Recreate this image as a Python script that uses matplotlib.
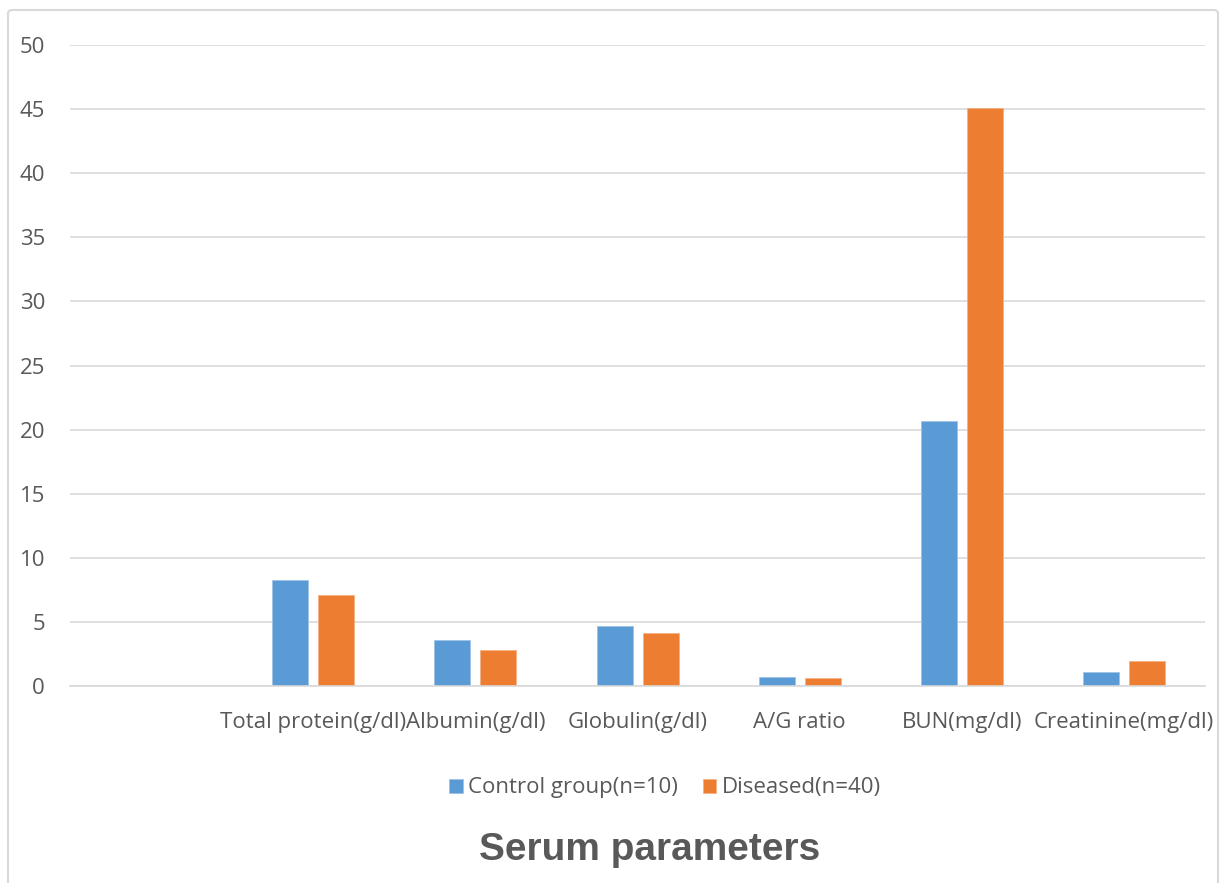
import numpy as np
import matplotlib.pyplot as plt
from matplotlib.patches import FancyBboxPatch

categories = ["", "Total protein(g/dl)", "Albumin(g/dl)", "Globulin(g/dl)",
              "A/G ratio", "BUN(mg/dl)", "Creatinine(mg/dl)"]
control = [np.nan, 8.3, 3.6, 4.65, 0.68, 20.7, 1.13]
diseased = [np.nan, 7.1, 2.82, 4.12, 0.6, 45.1, 1.98]
series_names = ["Control group(n=10)", "Diseased(n=40)"]

blue = "#5B9BD5"
orange = "#ED7D31"
grey_txt = "#595959"
grid_col = "#D9D9D9"

plt.rcParams['font.family'] = ['Open Sans', 'DejaVu Sans']

fig = plt.figure(figsize=(12.21, 8.83), dpi=100)
ax = fig.add_axes([0.0573, 0.2231, 0.987 - 0.0573, 0.949 - 0.2231])

x = np.arange(len(categories))
w = 0.222
off = 0.142
ax.bar(x - off, control, w, color=blue, edgecolor="#9DC3E6", linewidth=0.6,
       label=series_names[0], zorder=3)
ax.bar(x + off, diseased, w, color=orange, edgecolor="#F4B183", linewidth=0.6,
       label=series_names[1], zorder=3)

ax.set_xlim(-0.5, len(categories) - 0.5)
ax.set_ylim(0, 50)
ax.set_yticks(np.arange(0, 51, 5))
ax.yaxis.grid(True, color=grid_col, linewidth=1.2, zorder=0)
ax.set_axisbelow(True)
for s in ["left", "right", "top"]:
    ax.spines[s].set_visible(False)
ax.spines["bottom"].set_color(grid_col)
ax.spines["bottom"].set_linewidth(1.2)
ax.spines["bottom"].set_zorder(4)

ax.set_xticks(x)
ax.set_xticklabels(categories, fontsize=16, color=grey_txt)
ax.tick_params(axis="x", length=0, pad=19)
ax.tick_params(axis="y", length=0, pad=18, labelsize=16, labelcolor=grey_txt)

leg = fig.legend(loc="center", bbox_to_anchor=(665 / 1221, 1 - 788 / 883), ncol=2,
                 frameon=False, fontsize=16, handlelength=0.6, handleheight=0.6,
                 handletextpad=0.25, columnspacing=1.1)
for t in leg.get_texts():
    t.set_color(grey_txt)

fig.text(650 / 1221, 1 - 850 / 883, "Serum parameters", ha="center", va="center",
         fontsize=28, fontweight="bold", color=grey_txt, family="Liberation Sans")

frame = FancyBboxPatch((8 / 1221, -0.05), 1210 / 1221, 1 - 10 / 883 + 0.05,
                       boxstyle="round,pad=0,rounding_size=0.004",
                       transform=fig.transFigure, facecolor="none",
                       edgecolor="#D9D9D9", linewidth=1.5)
fig.patches.append(frame)

fig.savefig("out.png", dpi=100, facecolor="white")
